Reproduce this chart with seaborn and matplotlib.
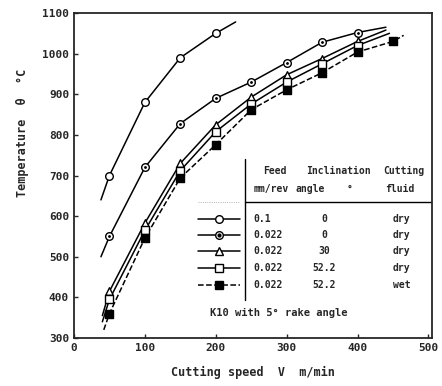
import numpy as np
import pandas as pd
import matplotlib.pyplot as plt
from matplotlib.lines import Line2D
import seaborn as sns

# cutting speed V (m/min) at the measured points
speed = [50, 100, 150, 200, 250, 300, 350, 400, 450]

# measured temperatures (deg C), None where no point was taken
temp_feed01 = [700, 880, 990, 1050, None, None, None, None, None]
temp_incl0 = [550, 720, 828, 890, 930, 978, 1028, 1052, None]
temp_incl30 = [415, 583, 730, 825, 893, 948, 988, 1030, None]
temp_incl52_dry = [395, 565, 712, 808, 876, 930, 975, 1020, None]
temp_incl52_wet = [360, 546, 694, 776, 862, 911, 953, 1004, 1030]

# drawn curves run a little past the first and last measured points
curve_start = {"feed01": (38, 640), "incl0": (38, 500), "incl30": (40, 355),
               "incl52_dry": (40, 340), "incl52_wet": (42, 320)}
curve_end = {"feed01": (228, 1078), "incl0": (440, 1065), "incl30": (440, 1058),
             "incl52_dry": (445, 1050), "incl52_wet": (465, 1045)}

feeds = ["0.1", "0.022", "0.022", "0.022", "0.022"]
angles = ["0", "0", "30", "52.2", "52.2"]
fluids = ["dry", "dry", "dry", "dry", "wet"]

series = [
    ("feed01", temp_feed01, "o", "white", "-"),
    ("incl0", temp_incl0, "o", "white", "-"),
    ("incl30", temp_incl30, "^", "white", "-"),
    ("incl52_dry", temp_incl52_dry, "s", "white", "-"),
    ("incl52_wet", temp_incl52_wet, "s", "black", "--"),
]

sns.set_style("ticks")
plt.rcParams['font.family'] = ['DejaVu Sans Mono', 'DejaVu Sans']
plt.rcParams['font.weight'] = 'bold'

fig = plt.figure(figsize=(4.42, 3.86), dpi=100)
ax = fig.add_axes([74 / 442, 48 / 386, 358 / 442, 325 / 386])

for name, temps, mk, fc, ls in series:
    pts = pd.DataFrame({"V": speed, "T": temps}).dropna()
    curve = pd.concat([pd.DataFrame([curve_start[name]], columns=["V", "T"]), pts,
                       pd.DataFrame([curve_end[name]], columns=["V", "T"])])
    sns.lineplot(data=curve, x="V", y="T", ax=ax, color="black", lw=1.1,
                 linestyle=ls, sort=True, estimator=None)
    sns.scatterplot(data=pts, x="V", y="T", ax=ax, marker=mk, s=30,
                    facecolor=fc, edgecolor="black", linewidth=1.0, zorder=5)
    if name == "incl0":
        sns.scatterplot(data=pts, x="V", y="T", ax=ax, marker="o", s=5,
                        color="black", zorder=6)

ax.set_xlim(0, 505)
ax.set_ylim(300, 1100)
ax.set_xticks(range(0, 501, 100))
ax.set_yticks(range(300, 1101, 100))
ax.tick_params(direction="in", length=3, width=1, labelsize=8)
for sp in ax.spines.values():
    sp.set_linewidth(1.3)

ax.set_xlabel("Cutting speed  V  m/min", fontsize=8.5, fontweight="bold")
ax.set_ylabel("Temperature  θ  °C", fontsize=8.5, fontweight="bold")
ax.xaxis.set_label_coords(0.5, -0.085)
ax.yaxis.set_label_coords(-0.125, 0.63)

# legend table drawn inside the axes
tr = ax.transAxes
ax.add_line(Line2D([0.478, 0.478], [0.117, 0.55], transform=tr, color="black", lw=1))
ax.add_line(Line2D([0.478, 1.0], [0.418, 0.418], transform=tr, color="black", lw=1))
ax.add_line(Line2D([0.345, 0.46], [0.418, 0.418], transform=tr, color="0.6", lw=0.6, ls=":"))
hdr = dict(transform=tr, fontsize=7, fontweight="bold", ha="center", va="center")
ax.text(0.56, 0.513, "Feed", **hdr)
ax.text(0.55, 0.458, "mm/rev", **hdr)
ax.text(0.74, 0.513, "Inclination", **hdr)
ax.text(0.66, 0.458, "angle", **hdr)
ax.text(0.77, 0.458, "°", **hdr)
ax.text(0.92, 0.513, "Cutting", **hdr)
ax.text(0.91, 0.458, "fluid", **hdr)

row_y = [0.366, 0.318, 0.268, 0.215, 0.163]
for i, (name, temps, mk, fc, ls) in enumerate(series):
    y = row_y[i]
    ax.add_line(Line2D([0.345, 0.465], [y, y], transform=tr, color="black",
                       lw=1.1, linestyle=ls))
    ax.add_line(Line2D([0.405], [y], transform=tr, marker=mk, markersize=5.5,
                       markerfacecolor=fc, markeredgecolor="black", mew=1.0))
    if name == "incl0":
        ax.add_line(Line2D([0.405], [y], transform=tr, marker="o", markersize=2,
                           color="black"))
    ax.text(0.5, y, feeds[i], transform=tr, fontsize=7, fontweight="bold", va="center")
    ax.text(0.70, y, angles[i], transform=tr, fontsize=7, fontweight="bold",
            va="center", ha="center")
    ax.text(0.915, y, fluids[i], transform=tr, fontsize=7, fontweight="bold",
            va="center", ha="center")

ax.text(0.38, 0.077, "K10 with 5° rake angle", transform=tr, fontsize=7.5,
        fontweight="bold", va="center")

fig.savefig("out.png", dpi=100)
